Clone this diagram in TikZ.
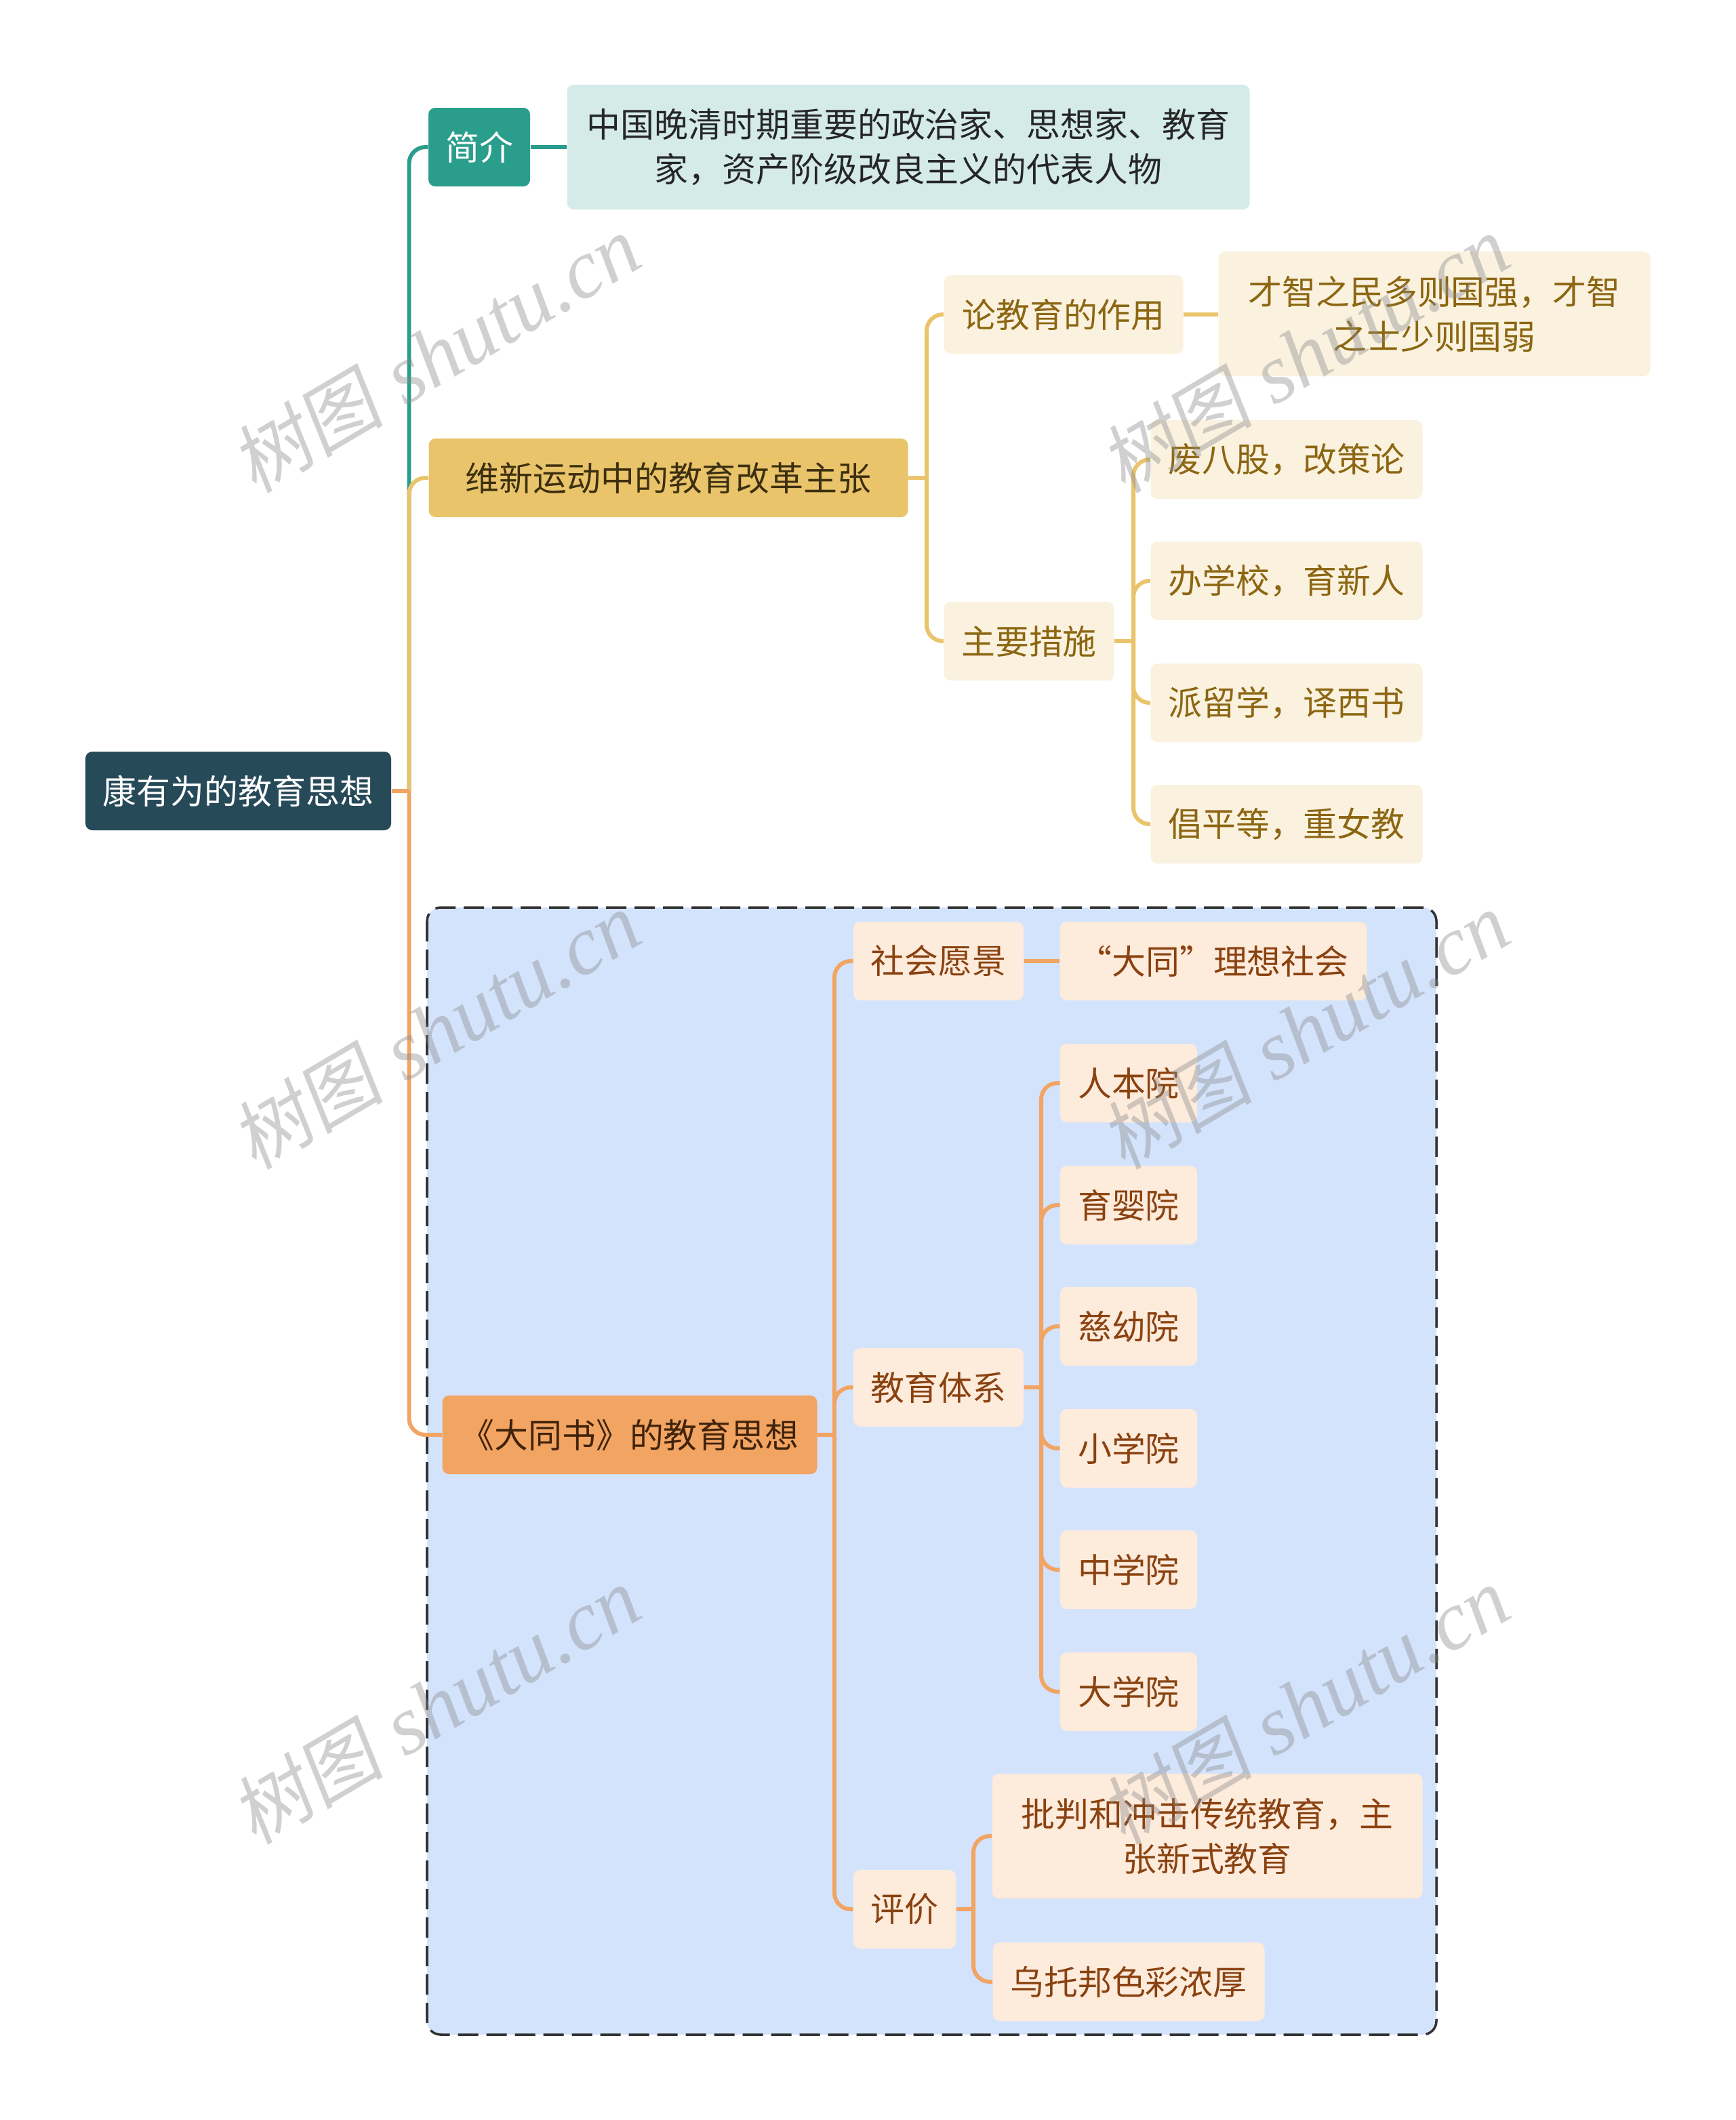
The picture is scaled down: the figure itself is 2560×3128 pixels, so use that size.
\documentclass[tikz,border=0pt]{standalone}
\usepackage{fontspec}
\setmainfont{Noto Sans CJK SC}
\newfontfamily\wmcjk{Noto Sans CJK SC}[FakeSlant=0.15]
\newfontfamily\wmlatin{Liberation Serif}
\usetikzlibrary{calc}
\definecolor{rootfill}{HTML}{274A59}
\definecolor{tealfill}{HTML}{2A9D8C}
\definecolor{tealpale}{HTML}{D4EBE8}
\definecolor{goldfill}{HTML}{E9C46A}
\definecolor{goldpale}{HTML}{FAF2DF}
\definecolor{goldtext}{HTML}{8C6612}
\definecolor{goldtextdark}{HTML}{3D3010}
\definecolor{orangefill}{HTML}{F2A463}
\definecolor{orangepale}{HTML}{FDEBDC}
\definecolor{orangetext}{HTML}{8A4210}
\definecolor{orangetextdark}{HTML}{40230A}
\definecolor{regionfill}{HTML}{D4E3FC}
\definecolor{regionline}{HTML}{333333}
\definecolor{wmgray}{HTML}{8A8A8A}
\newcommand\nodefont{\fontsize{14.2pt}{18.8pt}\selectfont}
\tikzset{
  box/.style={rounded corners=1mm, inner sep=0pt, align=center, font=\nodefont, minimum height=11.6mm},
  tallbox/.style={box, minimum height=18.4mm},
  rootbox/.style={box, fill=rootfill, text=white},
  tealbox/.style={box, fill=tealfill, text=white},
  tealleaf/.style={tallbox, fill=tealpale, text=black!85},
  goldbox/.style={box, fill=goldfill, text=goldtextdark},
  goldleaf/.style={box, fill=goldpale, text=goldtext},
  orangebox/.style={box, fill=orangefill, text=orangetextdark},
  orangeleaf/.style={box, fill=orangepale, text=orangetext},
  conn/.style={line width=1.7pt},
  tealline/.style={conn, draw=tealfill},
  goldline/.style={conn, draw=goldfill},
  orangeline/.style={conn, draw=orangefill},
  elbow/.style={rounded corners=2.4mm},
  wm/.style={text=wmgray, opacity=0.4, rotate=30.5, inner sep=0pt}
}
\begin{document}
\begin{tikzpicture}[x=0.1mm,y=-0.1mm]
\useasboundingbox (0,0) rectangle (2560,3128);
\fill[white] (0,0) rectangle (2560,3128);

% dashed region
\draw[fill=regionfill, draw=regionline, line width=1pt, dash pattern=on 3mm off 1.2mm, rounded corners=2mm] (630,1339) rectangle (2119,3002);

% nodes
\node[rootbox, minimum width=45.1mm] (root) at (351.5,1167) {康有为的教育思想};

\node[tealbox, minimum width=15mm] (jj) at (707,217) {简介};
\node[tealleaf, minimum width=100.7mm] (jjc) at (1340,217) {中国晚清时期重要的政治家、思想家、教育\\家，资产阶级改良主义的代表人物};

\node[goldbox, minimum width=70.7mm] (wx) at (986,705) {维新运动中的教育改革主张};
\node[goldleaf, minimum width=35.3mm] (lun) at (1569,464) {论教育的作用};
\node[goldleaf, tallbox, minimum width=63.7mm] (cz) at (2116,463) {才智之民多则国强，才智\\之士少则国弱};
\node[goldleaf, minimum width=25.1mm] (zy) at (1518,946) {主要措施};
\node[goldleaf, minimum width=40.1mm] (m1) at (1898,678) {废八股，改策论};
\node[goldleaf, minimum width=40.1mm] (m2) at (1898,857) {办学校，育新人};
\node[goldleaf, minimum width=40.1mm] (m3) at (1898,1037) {派留学，译西书};
\node[goldleaf, minimum width=40.1mm] (m4) at (1898,1216) {倡平等，重女教};

\node[orangebox, minimum width=55.3mm] (dt) at (929,2117) {《大同书》的教育思想};
\node[orangeleaf, minimum width=25.1mm] (sh) at (1384.5,1418) {社会愿景};
\node[orangeleaf, minimum width=45.3mm] (lx) at (1790,1418) {“大同”理想社会};
\node[orangeleaf, minimum width=25.1mm] (jy) at (1384.5,2047) {教育体系};
\node[orangeleaf, minimum width=20.2mm] (y1) at (1665,1598) {人本院};
\node[orangeleaf, minimum width=20.2mm] (y2) at (1665,1778) {育婴院};
\node[orangeleaf, minimum width=20.2mm] (y3) at (1665,1957) {慈幼院};
\node[orangeleaf, minimum width=20.2mm] (y4) at (1665,2137) {小学院};
\node[orangeleaf, minimum width=20.2mm] (y5) at (1665,2316) {中学院};
\node[orangeleaf, minimum width=20.2mm] (y6) at (1665,2496) {大学院};
\node[orangeleaf, minimum width=15.1mm] (pj) at (1334.5,2817) {评价};
\node[orangeleaf, tallbox, minimum width=63.5mm] (pp) at (1781,2709) {批判和冲击传统教育，主\\张新式教育};
\node[orangeleaf, minimum width=40.1mm] (wt) at (1665,2924) {乌托邦色彩浓厚};

% junctions
\coordinate (rj) at (603.5,1167);
\coordinate (wj) at (1367,705);
\coordinate (zj) at (1672,946);
\coordinate (dj) at (1231,2117);
\coordinate (ej) at (1536,2047);
\coordinate (pjj) at (1436,2817);

% root connectors
\draw[tealline, elbow] (rj) |- (jj.west);
\draw[goldline, elbow] (rj) |- (wx.west);
\draw[orangeline, elbow] (rj) |- (dt.west);
\draw[orangeline] (root.east) -- (rj);

% teal
\draw[tealline] (jj.east) -- (jj.east -| jjc.west);

% gold
\draw[goldline] (wx.east) -- (wj);
\draw[goldline, elbow] (wj) |- (lun.west);
\draw[goldline, elbow] (wj) |- (zy.west);
\draw[goldline] (lun.east) -- (lun.east -| cz.west);
\draw[goldline] (zy.east) -- (zj);
\foreach \n in {m1,m2,m3,m4} \draw[goldline, elbow] (zj) |- (\n.west);

% orange
\draw[orangeline] (dt.east) -- (dj);
\draw[orangeline, elbow] (dj) |- (sh.west);
\draw[orangeline, elbow] (dj) |- (jy.west);
\draw[orangeline, elbow] (dj) |- (pj.west);
\draw[orangeline] (sh.east) -- (sh.east -| lx.west);
\draw[orangeline] (jy.east) -- (ej);
\foreach \n in {y1,y2,y3,y4,y5,y6} \draw[orangeline, elbow] (ej) |- (\n.west);
\draw[orangeline] (pj.east) -- (pjj);
\draw[orangeline, elbow] (pjj) |- (pp.west);
\draw[orangeline, elbow] (pjj) |- (wt.west);

% watermarks
\foreach \wx/\wy [count=\i] in {643/523, 643/1521, 643/2517, 1925/523, 1925/1521, 1925/2517}
  \node[wm] (wm\i) at (\wx,\wy) {{\wmcjk\fontsize{32pt}{38pt}\selectfont 树图}\hspace{9pt}{\wmlatin\itshape\fontsize{35pt}{42pt}\selectfont shutu.cn}};
\end{tikzpicture}
\end{document}
